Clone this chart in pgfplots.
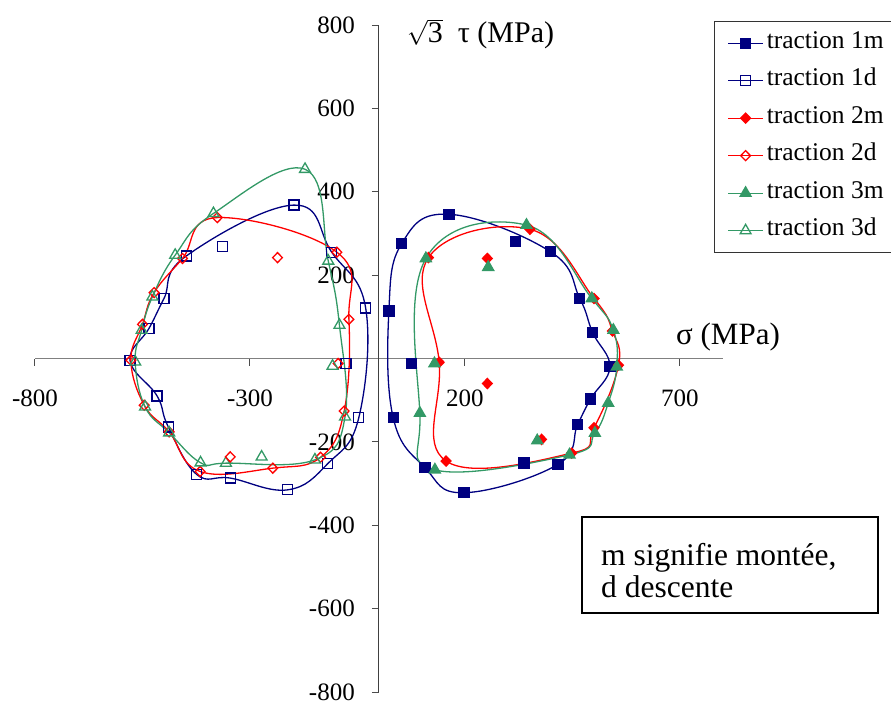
\documentclass[border=0pt]{standalone}
\usepackage{fontspec}
\setmainfont{Liberation Serif}
\usepackage{pgfplots}
\pgfplotsset{compat=1.18}
\definecolor{cA}{RGB}{0,0,128}
\definecolor{cB}{RGB}{255,0,0}
\definecolor{cC}{RGB}{51,153,102}
\begin{document}
\begin{tikzpicture}[x=1pt,y=1pt]
\useasboundingbox (0,0) rectangle (891,702);
\begin{axis}[
  at={(35pt,10pt)}, anchor=south west,
  scale only axis, width=688pt, height=667pt,
  xmin=-800, xmax=800, ymin=-800, ymax=800,
  axis lines=middle,
  axis line style={-},
  x axis line style={draw=black!50, line width=1.2pt},
  y axis line style={draw=black!75, line width=1pt},
  xtick={-800,-300,200,700},
  ytick={-800,-600,-400,-200,0,200,400,600,800},
  tick align=outside, major tick length=7pt,
  every tick/.style={black!70, line width=1pt},
  /pgf/number format/assume math mode=true,
  tick label style={font=\fontsize{25}{28}\selectfont, inner sep=0pt},
  xticklabel style={anchor=north, yshift=-24pt},
  yticklabel style={anchor=east, xshift=-17pt},
  legend style={at={(axis description cs:0.987,1.006)}, anchor=north west,
    draw=black!80, line width=0.8pt, fill=white,
    font=\fontsize{25.5}{28}\selectfont,
    inner xsep=13pt, inner ysep=3pt, row sep=0pt,
    nodes={inner xsep=3pt, inner ysep=7pt, text height=17pt, text depth=6.5pt, anchor=west}},
  legend cell align=left,
  legend image code/.code={\draw[mark repeat=2,mark phase=2,#1,sharp plot] plot coordinates {(0pt,0pt) (17.5pt,0pt) (35pt,0pt)};},
]
% traction 1m
\addplot[cA, line width=1.3pt, smooth cycle, tension=0.7, mark=square*, mark size=5pt, mark options={solid}] coordinates {
(537,-20) (492,-97) (462,-158) (416,-254) (198,-322) (107,-262) (33,-142) (23,114) (53,276) (163,346) (399,256) (467,144) (497,62)};
\addlegendentry{traction 1m}
% traction 1d
\addplot[cA, line width=1.3pt, smooth cycle, tension=0.7, mark=square, mark size=5pt, mark options={solid}] coordinates {
(-579,-5) (-535,72) (-500,144) (-448,246) (-198,368) (-110,255) (-31,121) (-47,-142) (-119,-252) (-212,-315) (-345,-287) (-424,-278) (-490,-164) (-516,-90)};
\addlegendentry{traction 1d}
% traction 2m
\addplot[cB, line width=1.3pt, smooth cycle, tension=0.7, mark=diamond*, mark size=5pt, mark options={solid, xscale=1.3}] coordinates {
(115,242) (351,310) (500,144) (543,66) (557,-16) (500,-166) (448,-227) (156,-246) (140,-9)};
\addlegendentry{traction 2m}
% traction 2d
\addplot[cB, line width=1.3pt, smooth cycle, tension=0.7, mark=diamond, mark size=5pt, mark options={solid, xscale=1.3}] coordinates {
(-98,255) (-70,94) (-81,-126) (-136,-237) (-247,-263) (-416,-271) (-488,-176) (-546,-112) (-577,-4) (-550,82) (-523,158) (-457,240) (-376,338)};
\addlegendentry{traction 2d}
% traction 3m
\addplot[cC, line width=1.3pt, smooth cycle, tension=0.7, mark=triangle*, mark size=6.3pt, mark options={solid}] coordinates {
(109,240) (343,320) (495,144) (545,68) (553,-20) (533,-107) (502,-179) (443,-231) (130,-267) (95,-131)};
\addlegendentry{traction 3m}
% traction 3d
\addplot[cC, line width=1.3pt, smooth cycle, tension=0.7, mark=triangle, mark size=6.3pt, mark options={solid}] coordinates {
(-172,454) (-118,234) (-92,80) (-79,-140) (-149,-243) (-356,-251) (-415,-250) (-488,-178) (-544,-116) (-567,-8) (-552,68) (-527,148) (-474,248) (-385,348)};
\addlegendentry{traction 3d}
% isolated points
\addplot[cA, only marks, forget plot, line width=1.3pt, mark=square*, mark size=5pt] coordinates {(76,-12) (318,280) (337,-251)};
\addplot[cA, only marks, forget plot, line width=1.3pt, mark=square, mark size=5pt] coordinates {(-364,268) (-77,-12)};
\addplot[cB, only marks, forget plot, line width=1.3pt, mark=diamond*, mark size=5pt, mark options={xscale=1.3}] coordinates {(252,240) (252,-60) (378,-194)};
\addplot[cB, only marks, forget plot, line width=1.3pt, mark=diamond, mark size=5pt, mark options={xscale=1.3}] coordinates {(-236,242) (-95,-12) (-346,-236)};
\addplot[cC, only marks, forget plot, line width=1.3pt, mark=triangle*, mark size=6.3pt] coordinates {(129,-12) (254,219) (368,-197)};
\addplot[cC, only marks, forget plot, line width=1.3pt, mark=triangle, mark size=6.3pt] coordinates {(-108,-18) (-273,-236)};
\end{axis}
\node[anchor=base west, inner sep=0pt, font=\fontsize{31}{34}\selectfont] at (676,357) {σ (MPa)};
\node[anchor=base west, inner sep=0pt, font=\fontsize{30}{32}\selectfont] at (407,659) {$\sqrt{\mbox{3}}$\ \ τ (MPa)};
\draw[black, line width=1.3pt, fill=white] (582,89) rectangle (878,185);
\node[anchor=base west, inner sep=0pt, font=\fontsize{31.5}{34}\selectfont] at (601,137) {m signifie montée,};
\node[anchor=base west, inner sep=0pt, font=\fontsize{31.5}{34}\selectfont] at (601,105) {d descente};
\end{tikzpicture}
\end{document}
